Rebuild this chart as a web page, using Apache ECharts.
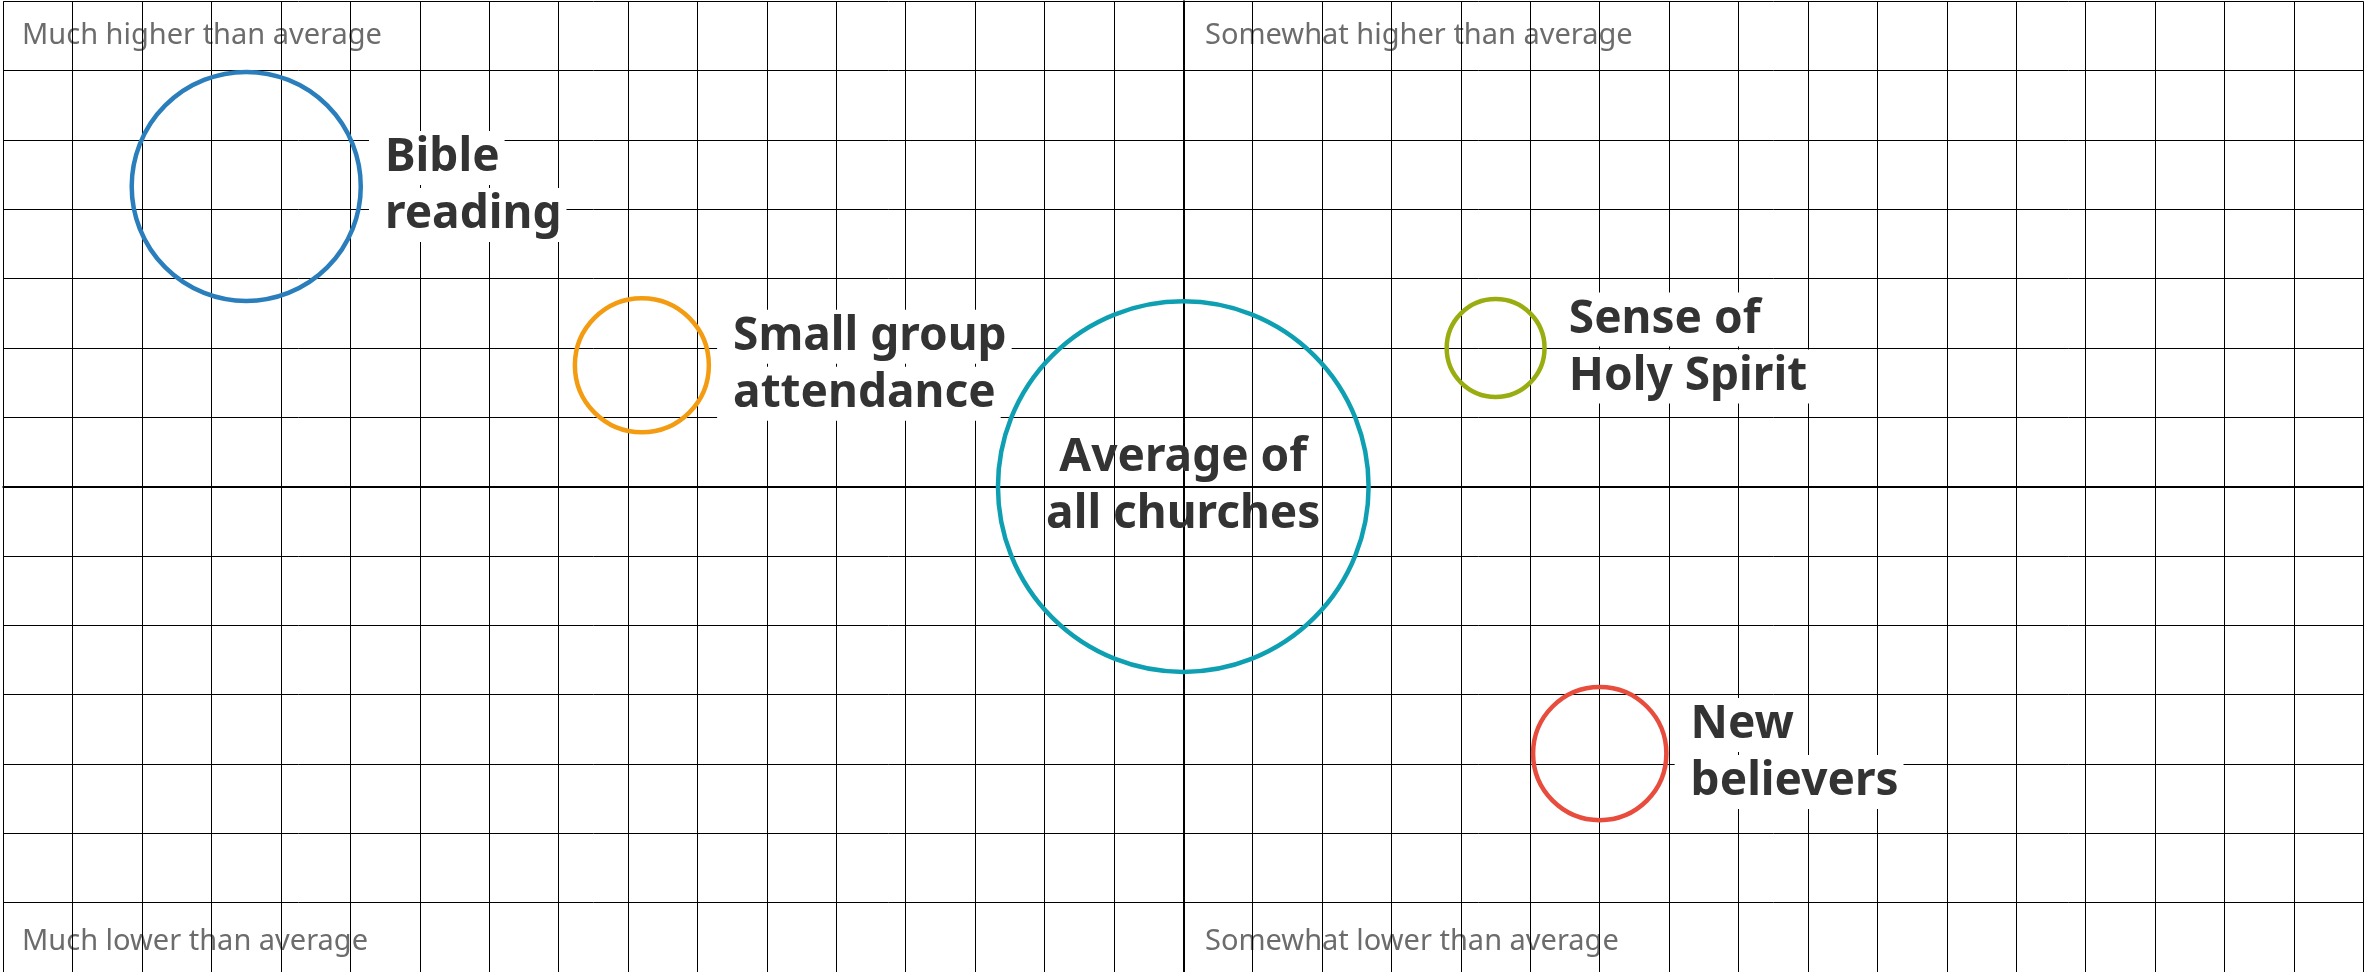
<!DOCTYPE html>
<html><head><meta charset="utf-8">
<script src="https://cdn.jsdelivr.net/npm/echarts@6/dist/echarts.min.js"></script>
<style>html,body{margin:0;padding:0;background:#fff}#c{width:2364px;height:972px}</style>
</head><body><div id="c"></div>
<script>
// ---- data ----
const categories = ['Bible\nreading', 'Small group\nattendance', 'Average of\nall churches', 'Sense of\nHoly Spirit', 'New\nbelievers'];
const xValues = [-13.5, -7.8, 0, 4.5, 6];
const yValues = [4.33, 1.75, 0, 2, -3.85];
const radii = [1.65, 0.965, 2.67, 0.705, 0.96]; // bubble radius in axis units
const labelInside = [false, false, true, false, false];
const colors = ['#2a7ebc', '#f39c12', '#0ea0b2', '#9aad10', '#e74c3c'];
const quadrantLabels = ['Much higher than average', 'Somewhat higher than average', 'Much lower than average', 'Somewhat lower than average'];
const xRange = [-17, 17];
const yRange = [-7, 7];

const chart = echarts.init(document.getElementById('c'), null, {renderer: 'canvas'});
const FONT = 'Noto Sans';
let pxPerUnit = 69.4;

function buildData() {
  return categories.map((name, i) => {
    const item = {
      name: name,
      value: [xValues[i], yValues[i]],
      itemStyle: {color: 'rgba(0,0,0,0)', borderColor: colors[i], borderWidth: 4.5, opacity: 1}
    };
    if (labelInside[i]) {
      item.label = {
        show: true, position: 'inside', formatter: name,
        fontFamily: FONT, fontWeight: 'bold', fontSize: 46, lineHeight: 57, color: '#333', align: 'center'
      };
    } else {
      item.label = {
        show: true, position: 'right', distance: 6,
        formatter: name.split('\n').map(s => '{t|' + s + '}').join('\n'),
        rich: {t: {fontFamily: FONT, fontWeight: 'bold', fontSize: 46, lineHeight: 57, color: '#333',
          backgroundColor: '#fff', padding: [4, 5, 4, 16]}}
      };
    }
    return item;
  });
}

const gridLeft = 3.3, cell = 69.41;
const qFont = '29px "Noto Sans"';
const option = {
  animation: false,
  backgroundColor: '#fff',
  grid: {left: gridLeft, top: 1.3, width: cell * 34, height: cell * 14, containLabel: false},
  xAxis: {
    type: 'value', min: xRange[0], max: xRange[1], interval: 1,
    axisLabel: {show: false}, axisTick: {show: false},
    axisLine: {show: true, onZero: true, lineStyle: {color: '#000', width: 2}},
    splitLine: {show: true, showMinLine: true, showMaxLine: true, lineStyle: {color: '#000', width: 1}}
  },
  yAxis: {
    type: 'value', min: yRange[0], max: yRange[1], interval: 1,
    axisLabel: {show: false}, axisTick: {show: false},
    axisLine: {show: true, onZero: true, lineStyle: {color: '#000', width: 2}},
    splitLine: {show: true, showMinLine: true, showMaxLine: true, lineStyle: {color: '#000', width: 1}}
  },
  graphic: [
    {type: 'text', z: -10, left: 22, top: 21, style: {text: quadrantLabels[0], fill: '#6c6c6c', font: qFont}},
    {type: 'text', z: -10, left: 1205, top: 21, style: {text: quadrantLabels[1], fill: '#6c6c6c', font: qFont}},
    {type: 'text', z: -10, left: 22, top: 927, style: {text: quadrantLabels[2], fill: '#6c6c6c', font: qFont}},
    {type: 'text', z: -10, left: 1205, top: 927, style: {text: quadrantLabels[3], fill: '#6c6c6c', font: qFont}}
  ],
  series: [{
    type: 'scatter', silent: true, z: 5,
    symbol: 'circle',
    itemStyle: {opacity: 1},
    symbolSize: function (val, params) { return radii[params.dataIndex] * 2 * pxPerUnit; },
    data: buildData(),
    labelLayout: {hideOverlap: false}
  }]
};
chart.setOption(option);
const p0 = chart.convertToPixel({gridIndex: 0}, [0, 0]);
const p1 = chart.convertToPixel({gridIndex: 0}, [1, 0]);
pxPerUnit = p1[0] - p0[0];
chart.setOption({series: [{symbolSize: function (val, params) { return radii[params.dataIndex] * 2 * pxPerUnit; }}]});
</script></body></html>
